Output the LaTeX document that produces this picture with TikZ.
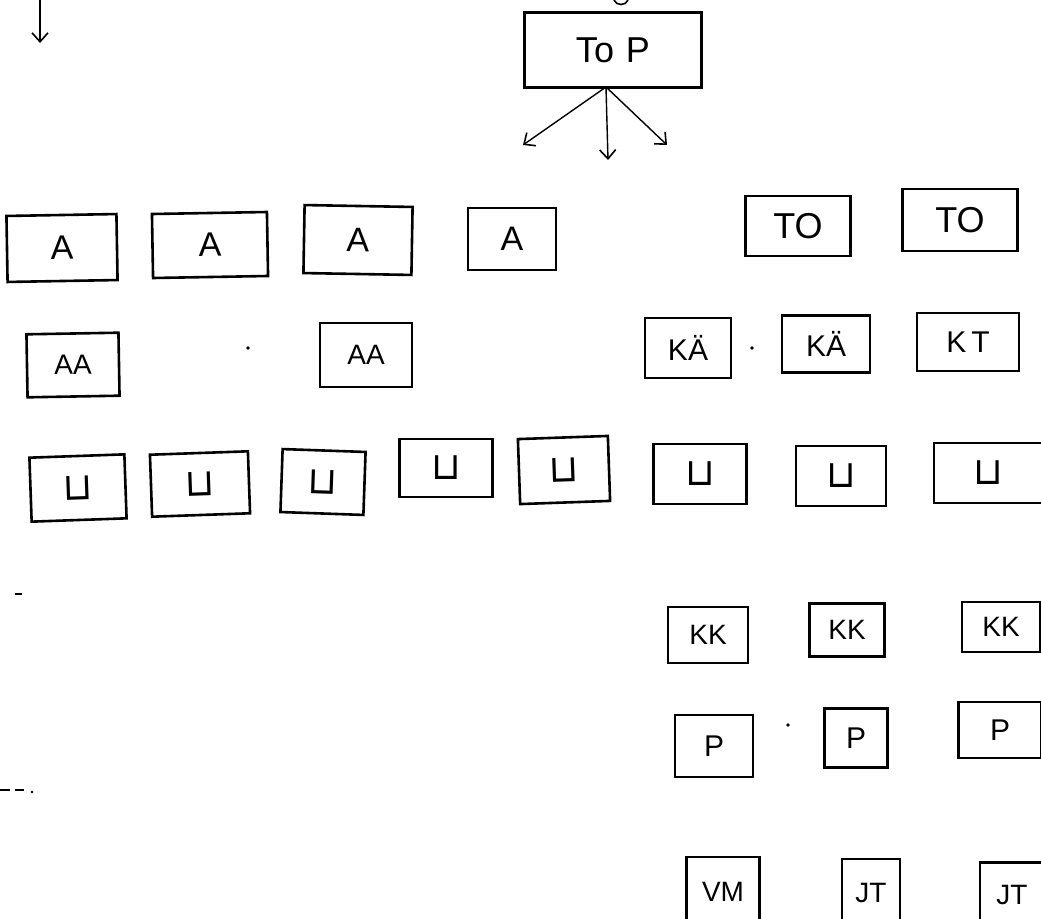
\documentclass[tikz,border=0pt]{standalone}
\usepackage{fontspec}
\setmainfont{Liberation Sans}
\newfontfamily\dvs{DejaVu Sans}
\usetikzlibrary{arrows.meta}
\begin{document}
\begin{tikzpicture}[x=1pt,y=-1pt,
  box/.style={draw, line width=2.6pt, inner sep=0pt, align=center},
  bw/.style 2 args={minimum width=#1pt, minimum height=#2pt},
  arr/.style={line width=1.4pt, -{Straight Barb[length=9pt,width=16pt,line width=1.6pt]}},
  dotmark/.style={fill, circle, inner sep=1.3pt},
  f36/.style={font=\fontsize{36}{40}\selectfont},
  f34/.style={font=\fontsize{34}{38}\selectfont},
  f30/.style={font=\fontsize{30}{34}\selectfont},
  f28/.style={font=\fontsize{28}{32}\selectfont},
  lsym/.style={font=\dvs\fontsize{38}{42}\selectfont}]
\useasboundingbox (0,0) rectangle (1041,918);
\fill[white] (0,0) rectangle (1041,918);

% top
\node[box, f36, bw={177}{75}] (top) at (613,50) {To\,\,P};
\coordinate (tops) at (606,87);
\coordinate (t1) at (523,145);
\coordinate (t2) at (608,160);
\coordinate (t3) at (667,145);
\draw[arr] (tops) -- (t1);
\draw[arr] (tops) -- (t2);
\draw[arr] (tops) -- (t3);
\draw[line width=1.6pt] (614,0) .. controls (616,6) and (626,6) .. (628,0);

% top-left arrow
\coordinate (la) at (40,-2);
\coordinate (lb) at (40,43);
\draw[arr] (la) -- (lb);

% A row
\node[box, f34, bw={110}{66}, rotate=1] (a1) at (62,248) {A};
\node[box, f34, bw={115}{64}, rotate=1] (a2) at (210,245) {A};
\node[box, f34, bw={108}{68}, rotate=-1] (a3) at (358,240) {A};
\node[box, f34, bw={88}{62}] (a4) at (512,239) {A};
\node[box, f36, bw={105}{60}] (to1) at (798,226) {TO};
\node[box, f36, bw={115}{62}] (to2) at (960,220) {TO};

% AA / KÄ row
\node[box, f28, bw={92}{63}, rotate=1] (aa1) at (73,365) {AA};
\node[box, f28, bw={92}{64}] (aa2) at (366,355) {AA};
\node[box, f30, bw={86}{60}] (ka1) at (688,348) {KÄ};
\node[box, f30, bw={88}{57}] (ka2) at (826,344) {KÄ};
\node[box, f30, bw={102}{58}] (kt) at (968,342) {K\,T};
\node[dotmark] (d1) at (248,348) {};
\node[dotmark] (d2) at (752,348) {};

% L row
\node[box, lsym, bw={95}{64}, rotate=2] (l1) at (78,488) {⊔};
\node[box, lsym, bw={98}{62}, rotate=2] (l2) at (200,484) {⊔};
\node[box, lsym, bw={83}{63}, rotate=-2] (l3) at (323,482) {⊔};
\node[box, lsym, bw={93}{58}] (l4) at (446,468) {⊔};
\node[box, lsym, bw={90}{65}, rotate=2] (l5) at (564,470) {⊔};
\node[box, lsym, bw={93}{60}] (l6) at (700,474) {⊔};
\node[box, lsym, bw={90}{60}] (l7) at (841,476) {⊔};
\node[box, lsym, bw={108}{60}] (l8) at (988,473) {⊔};

% KK row
\node[box, f28, bw={80}{56}] (kk1) at (708,635) {KK};
\node[box, f28, bw={75}{53}] (kk2) at (847,630) {KK};
\node[box, f28, bw={78}{50}] (kk3) at (1001,627) {KK};

% P row
\node[box, f30, bw={78}{62}] (p1) at (714,746) {P};
\node[box, f30, bw={63}{59}] (p2) at (856,738) {P};
\node[box, f30, bw={83}{56}] (p3) at (1000,730) {P};
\node[dotmark] (d3) at (788,725) {};

% bottom row
\node[box, f28, bw={73}{70}] (vm) at (723,892) {VM};
\node[box, f28, bw={58}{68}] (jt1) at (871,893) {JT};
\node[box, f28, bw={64}{65}] (jt2) at (1012,895) {JT};

% stray marks
\draw[line width=1.3pt] (0,790) -- (10,790) (15,790) -- (24,790);
\node[dotmark, inner sep=1pt] (d4) at (32,792) {};
\draw[line width=1.3pt] (15,594) -- (22,594);
\end{tikzpicture}
\end{document}
